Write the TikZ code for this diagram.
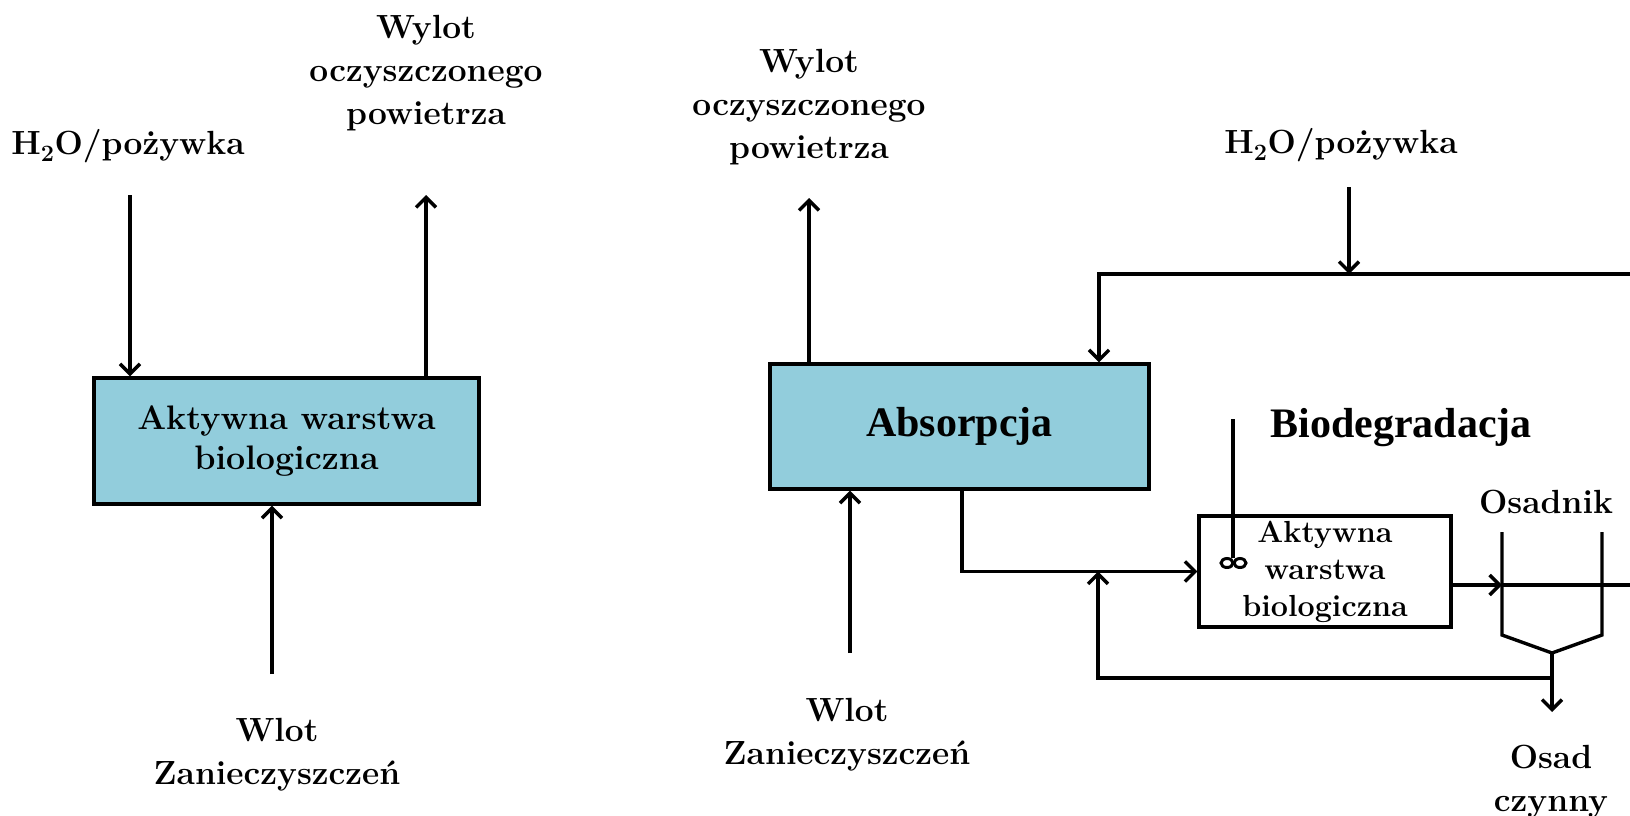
\documentclass[tikz,border=0pt]{standalone}
\usepackage{fontspec}
\newfontfamily\timesfont{Liberation Serif}
\usetikzlibrary{arrows.meta,calc}
\definecolor{boxblue}{RGB}{146,205,220}
\tikzset{
  conn/.style={line width=3.4pt, line join=miter},
  arr/.style={conn, -{Straight Barb[length=10pt,width=20pt]}},
  lbl/.style={font=\fontsize{33.5}{43}\selectfont\bfseries, align=center, inner sep=0pt},
  blk/.style={draw, line width=3.4pt, inner sep=0pt, align=center},
  bigt/.style={font=\fontsize{42}{46}\selectfont\timesfont\bfseries, inner sep=0pt},
}
\begin{document}
\begin{tikzpicture}[x=1pt,y=-1pt]
\fill[white] (0,0) rectangle (1630,816);
\useasboundingbox (0,0) rectangle (1630,816);

% ---------- left diagram ----------
\node[blk, fill=boxblue, minimum width=385pt, minimum height=126pt,
      font=\fontsize{34}{40}\selectfont\bfseries] (lb) at (286.5,441) {Aktywna warstwa\\biologiczna};
\node[lbl] (lh2o) at (128,146) {H\textsubscript{2}O/pożywka};
\node[lbl] (lwy) at (426,73) {Wylot\\oczyszczonego\\powietrza};
\node[lbl] (lwl) at (277,755) {Wlot\\Zanieczyszczeń};
\coordinate (c1) at (130,195);
\coordinate (c2) at (426,195);
\coordinate (c3) at (272,674);
\draw[arr] (c1) -- (c1 |- lb.north);
\draw[arr] (c2 |- lb.north) -- (c2);
\draw[arr] (c3) -- (c3 |- lb.south);

% ---------- right diagram ----------
\node[blk, fill=boxblue, minimum width=379pt, minimum height=125pt, bigt] (ab) at (959.5,426.5) {Absorpcja};
\node[lbl] (rwy) at (809,107) {Wylot\\oczyszczonego\\powietrza};
\node[lbl] (rh2o) at (1341,145) {H\textsubscript{2}O/pożywka};
\node[lbl] (rwl) at (847,735) {Wlot\\Zanieczyszczeń};
\node[blk, minimum width=252pt, minimum height=111pt,
      font=\fontsize{30.5}{37}\selectfont\bfseries] (bio) at (1325,571.5) {Aktywna\\warstwa\\biologiczna};
\node[bigt] (bdg) at (1401,428) {Biodegradacja};
\node[lbl] (osn) at (1546,502) {Osadnik};
\node[lbl] (osc) at (1551,782) {Osad\\czynny};

\coordinate (c4) at (809,198);
\coordinate (c5) at (1349,187);
\coordinate (c6) at (1349,274);
\coordinate (tl) at (1099,274);
\coordinate (tr) at (1630,274);
\coordinate (c7) at (850,653);
\coordinate (c8) at (962,0);
\coordinate (jx) at (1098,0);
\coordinate (oy) at (0,585);
\coordinate (ol) at (1502,585);
\coordinate (orr) at (1630,585);
\coordinate (os1) at (1502,532);
\coordinate (os2) at (1502,635);
\coordinate (osb) at (1552,653);
\coordinate (os4) at (1602,635);
\coordinate (os5) at (1602,532);
\coordinate (rb) at (1552,678);
\coordinate (osout) at (1552,712);
\coordinate (mx1) at (1233,419);
\coordinate (mx2) at (1233,558);

\draw[arr] (c4 |- ab.north) -- (c4);
\draw[arr] (c5) -- (c6);
\draw[arr] (tr) -- (tl) -- (tl |- ab.north);
\draw[arr] (c7) -- (c7 |- ab.south);
\draw[arr] (ab.south -| c8) |- (bio.west);
\draw[arr] (rb) -| (jx |- bio.west);
\draw[arr] (bio.east |- oy) -- (ol);
\draw[conn] (ol) -- (orr);
\draw[conn] (os1) -- (os2) -- (osb) -- (os4) -- (os5);
\draw[arr] (osb) -- (osout);
% mixer
\draw[conn] (mx1) -- (mx2);
\draw[line width=3pt] (1227,563) ellipse (6 and 4.5);
\draw[line width=3pt] (1240,563) ellipse (6 and 4.5);
\end{tikzpicture}
\end{document}
